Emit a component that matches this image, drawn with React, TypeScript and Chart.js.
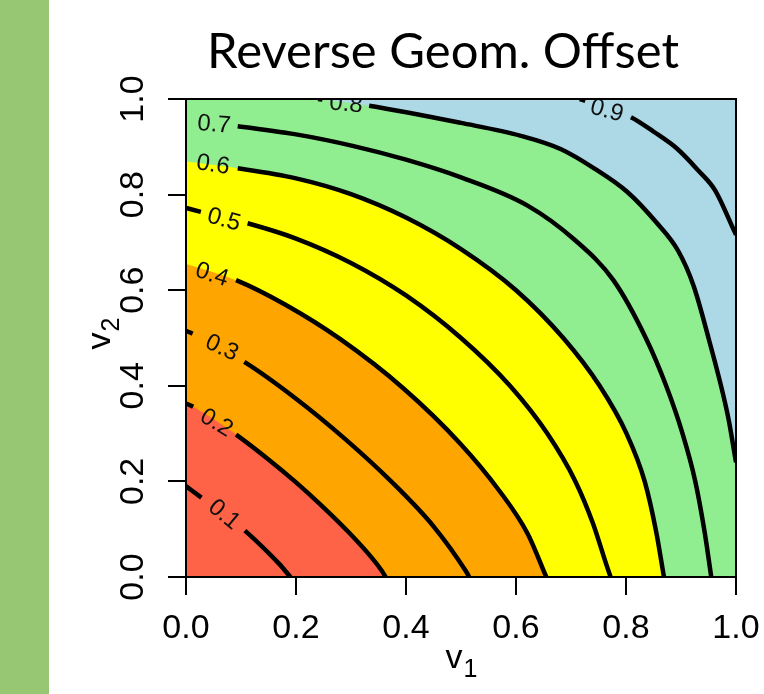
import React, { useEffect, useRef } from 'react';
import { Chart, registerables } from 'chart.js';

Chart.register(...registerables);

type P = [number, number];

const TITLE = 'Reverse Geom. Offset';
const X_TICKS = [0, 0.2, 0.4, 0.6, 0.8, 1];
const Y_TICKS = [0, 0.2, 0.4, 0.6, 0.8, 1];
const TICK_LABELS = ['0.0', '0.2', '0.4', '0.6', '0.8', '1.0'];
const X_TITLE = ['v', '1'];
const Y_TITLE = ['v', '2'];

// contour lines, [v1, v2]
const C01: P[] = [[0, 0.19], [0.028, 0.166], [0.107, 0.097], [0.153, 0.047], [0.169, 0.028], [0.19, 0]];
const C02: P[] = [[0, 0.363], [0.013, 0.356], [0.091, 0.298], [0.15, 0.246], [0.199, 0.199], [0.246, 0.15], [0.298, 0.091], [0.338, 0.04], [0.356, 0.013], [0.363, 0]];
const C03: P[] = [[0, 0.515], [0.012, 0.509], [0.106, 0.45], [0.2, 0.373], [0.289, 0.289], [0.373, 0.2], [0.45, 0.106], [0.509, 0.012], [0.515, 0]];
const C04: P[] = [[0, 0.655], [0.091, 0.621], [0.18, 0.57], [0.28, 0.498], [0.395, 0.395], [0.498, 0.28], [0.57, 0.18], [0.621, 0.091], [0.655, 0]];
const C05: P[] = [[0, 0.772], [0.027, 0.764], [0.112, 0.74], [0.2, 0.708], [0.3, 0.657], [0.4, 0.589], [0.5, 0.5], [0.589, 0.4], [0.657, 0.3], [0.708, 0.2], [0.74, 0.112], [0.764, 0.027], [0.772, 0]];
const C06: P[] = [[0, 0.869], [0.094, 0.855], [0.2, 0.834], [0.3, 0.801], [0.4, 0.752], [0.5, 0.686], [0.6, 0.6], [0.686, 0.5], [0.752, 0.4], [0.801, 0.3], [0.834, 0.2], [0.855, 0.094], [0.869, 0]];
const C07: P[] = [[0, 0.955], [0.094, 0.943], [0.2, 0.926], [0.303, 0.902], [0.4, 0.873], [0.5, 0.836], [0.621, 0.777], [0.706, 0.706], [0.777, 0.621], [0.836, 0.5], [0.873, 0.4], [0.902, 0.303], [0.926, 0.2], [0.943, 0.094], [0.955, 0]];
const C08: P[] = [[0.24, 1], [0.248, 0.9988], [0.333, 0.986], [0.5, 0.95], [0.609, 0.923], [0.682, 0.895], [0.742, 0.855], [0.803, 0.805], [0.855, 0.742], [0.895, 0.682], [0.923, 0.609], [0.95, 0.5], [0.986, 0.333], [0.9988, 0.248], [1, 0.24]];
const C09: P[] = [[0.716, 1], [0.726, 0.996], [0.809, 0.962], [0.851, 0.931], [0.894, 0.895], [0.931, 0.851], [0.962, 0.809], [0.996, 0.726], [1, 0.716]];

const CONTOURS = [C01, C02, C03, C04, C05, C06, C07, C08, C09];
// index of the point after which the label gap sits
const LABEL_GAPS = [1, 1, 1, 0, 1, 0, 0, 1, 1];
const LEVEL_LABELS = ['0.1', '0.2', '0.3', '0.4', '0.5', '0.6', '0.7', '0.8', '0.9'];
const LABEL_POS: P[] = [[0.069, 0.13], [0.055, 0.322], [0.065, 0.479], [0.047, 0.632], [0.069, 0.747], [0.049, 0.862], [0.051, 0.946], [0.291, 0.989], [0.765, 0.975]];
const LABEL_ANGLE = [40, 31, 25, 18, 16, 9, 5, 5, 15];

// filled bands (top of the stack first)
const CORNER: P[] = [[0, 1]];
const FULL: P[] = [[0, 1], [1, 1]];
const FILL_SHAPES: P[][] = [C02, C04, C06, CORNER.concat(C08), FULL];
const FILL_COLORS = ['#FF6347', '#FFA500', '#FFFF00', '#90EE90', '#ADD8E6'];

const toXY = (pts: P[]) => pts.map(([x, y]) => ({ x, y }));

const AXIS_FONT = '"Liberation Sans", Arial, sans-serif';

export default function App() {
  const ref = useRef<HTMLCanvasElement | null>(null);

  useEffect(() => {
    document.body.style.margin = '0';
    const canvas = ref.current;
    if (!canvas) return;

    const fillSets = FILL_SHAPES.map((pts, i) => ({
      data: toXY(pts),
      fill: 'origin',
      backgroundColor: FILL_COLORS[i],
      borderColor: 'rgba(0,0,0,0)',
      borderWidth: 0,
      pointRadius: 0,
      pointHoverRadius: 0,
      cubicInterpolationMode: 'monotone',
    }));

    const lineSets = CONTOURS.map((pts, i) => ({
      data: toXY(pts),
      fill: false,
      borderColor: '#000',
      borderWidth: 4.5,
      borderCapStyle: 'butt',
      pointRadius: 0,
      pointHoverRadius: 0,
      cubicInterpolationMode: 'monotone',
      clip: 0,
      segment: {
        borderColor: (ctx: any) => (ctx.p0DataIndex === LABEL_GAPS[i] ? 'rgba(0,0,0,0)' : undefined),
      },
    }));

    const decor = {
      id: 'decor',
      beforeDraw(chart: any) {
        const c = chart.ctx;
        c.save();
        c.fillStyle = '#98C774';
        c.fillRect(0, 0, 49, chart.height);
        c.restore();
      },
      afterDatasetsDraw(chart: any) {
        const c = chart.ctx;
        const a = chart.chartArea;
        const xs = chart.scales.x;
        const ys = chart.scales.y;
        c.save();
        c.beginPath();
        c.rect(a.left, a.top, a.right - a.left, a.bottom - a.top);
        c.clip();
        c.fillStyle = '#111';
        c.font = '24px ' + AXIS_FONT;
        c.textAlign = 'center';
        c.textBaseline = 'middle';
        LEVEL_LABELS.forEach((t, i) => {
          const px = xs.getPixelForValue(LABEL_POS[i][0]);
          const py = ys.getPixelForValue(LABEL_POS[i][1]);
          c.save();
          c.translate(px, py);
          c.rotate((LABEL_ANGLE[i] * Math.PI) / 180);
          c.fillText(t, 0, 0);
          c.restore();
        });
        c.restore();
      },
      afterDraw(chart: any) {
        const c = chart.ctx;
        const a = chart.chartArea;
        c.save();
        c.strokeStyle = '#000';
        c.lineWidth = 2;
        c.strokeRect(a.left, a.top, a.right - a.left, a.bottom - a.top);

        // title
        c.fillStyle = '#000';
        c.font = '100px Lato, "Open Sans", sans-serif';
        const w = c.measureText(TITLE).width;
        const size = (100 * 472) / w;
        c.font = size.toFixed(1) + 'px Lato, "Open Sans", sans-serif';
        c.textAlign = 'center';
        c.textBaseline = 'alphabetic';
        c.fillText(TITLE, 443, 68);

        // x axis title with subscript
        const mainF = '34px ' + AXIS_FONT;
        const subF = '25px ' + AXIS_FONT;
        c.textAlign = 'left';
        c.font = mainF;
        const vw = c.measureText(X_TITLE[0]).width;
        c.font = subF;
        const sw = c.measureText(X_TITLE[1]).width;
        const cx = (a.left + a.right) / 2;
        let x0 = cx - (vw + sw) / 2;
        c.font = mainF;
        c.fillText(X_TITLE[0], x0, 668);
        c.font = subF;
        c.fillText(X_TITLE[1], x0 + vw + 1, 677);

        // y axis title with subscript
        c.save();
        c.translate(110, (a.top + a.bottom) / 2 - 4);
        c.rotate(-Math.PI / 2);
        c.font = mainF;
        const vw2 = c.measureText(Y_TITLE[0]).width;
        c.font = subF;
        const sw2 = c.measureText(Y_TITLE[1]).width;
        x0 = -(vw2 + sw2) / 2;
        c.font = mainF;
        c.fillText(Y_TITLE[0], x0, 0);
        c.font = subF;
        c.fillText(Y_TITLE[1], x0 + vw2 + 1, 9);
        c.restore();
        c.restore();
      },
    };

    const tickFont = { family: AXIS_FONT, size: 34 };

    const chart = new Chart(canvas, {
      type: 'line',
      data: { datasets: [...fillSets, ...lineSets] as any },
      options: {
        animation: false,
        responsive: false,
        devicePixelRatio: 1,
        events: [],
        layout: { padding: { left: 0, right: 28, top: 99, bottom: 0 } },
        plugins: {
          legend: { display: false },
          tooltip: { enabled: false },
          title: { display: false },
          filler: { drawTime: 'beforeDatasetsDraw', propagate: false },
        } as any,
        scales: {
          x: {
            type: 'linear',
            position: 'bottom',
            min: 0,
            max: 1,
            afterBuildTicks: (s: any) => {
              s.ticks = X_TICKS.map((v) => ({ value: v }));
            },
            afterFit: (s: any) => {
              s.height = 117;
              s.paddingLeft = 0;
              s.paddingRight = 0;
            },
            ticks: {
              color: '#000',
              font: tickFont,
              padding: 13,
              minRotation: 0,
              maxRotation: 0,
              autoSkip: false,
              callback: (_v: any, i: number) => TICK_LABELS[i],
            },
            grid: {
              drawOnChartArea: false,
              drawTicks: true,
              tickLength: 18,
              color: '#000',
              lineWidth: 2,
            },
            border: { display: true, color: '#000', width: 2 },
          },
          y: {
            type: 'linear',
            position: 'left',
            min: 0,
            max: 1,
            afterBuildTicks: (s: any) => {
              s.ticks = Y_TICKS.map((v) => ({ value: v }));
            },
            afterFit: (s: any) => {
              s.width = 186;
              s.paddingTop = 0;
              s.paddingBottom = 0;
            },
            ticks: {
              color: '#000',
              font: tickFont,
              padding: 11,
              minRotation: 90,
              maxRotation: 90,
              crossAlign: 'center',
              autoSkip: false,
              callback: (_v: any, i: number) => TICK_LABELS[i],
            },
            grid: {
              drawOnChartArea: false,
              drawTicks: true,
              tickLength: 18,
              color: '#000',
              lineWidth: 2,
            },
            border: { display: true, color: '#000', width: 2 },
          },
        },
      } as any,
      plugins: [decor],
    });

    return () => chart.destroy();
  }, []);

  return (
    <div style={{ width: 764, height: 694 }}>
      <canvas ref={ref} width={764} height={694} style={{ display: 'block', width: 764, height: 694 }} />
    </div>
  );
}
